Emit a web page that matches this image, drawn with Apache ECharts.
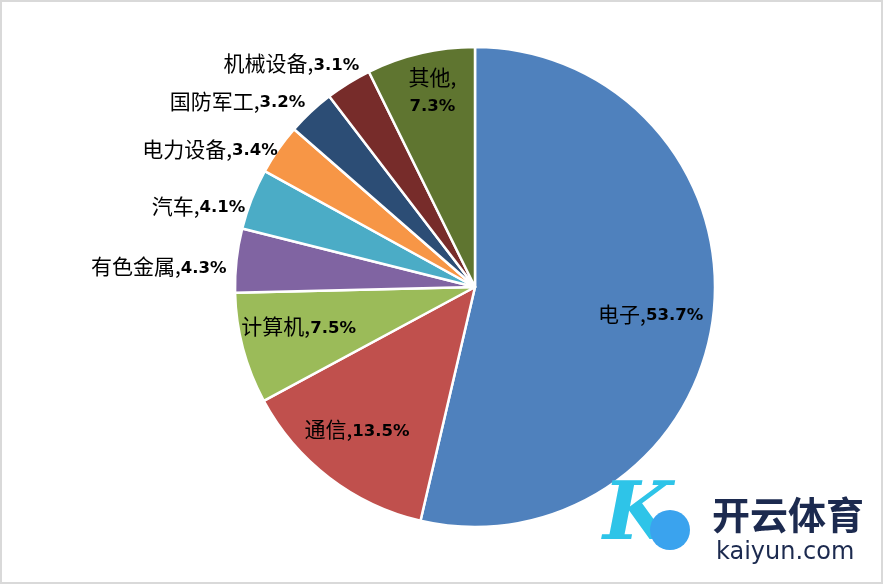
<!DOCTYPE html>
<html><head><meta charset="utf-8">
<script src="https://cdn.jsdelivr.net/npm/echarts@6/dist/echarts.min.js"></script>
<style>html,body{margin:0;padding:0;background:#fff}#c{width:883px;height:584px}</style>
</head><body><div id="c"></div>
<script>
const categories = ['电子','通信','计算机','有色金属','汽车','电力设备','国防军工','机械设备','其他'];
const shares = [53.7, 13.5, 7.5, 4.3, 4.1, 3.4, 3.2, 3.1, 7.3];
const colors = ['#4F81BD','#C0504D','#9BBB59','#8064A2','#4BACC6','#F79646','#2C4D75','#772C2A','#5F7530'];
// label placement style: inside labels pushed outward by a radial factor
const insideFactor = {0:1.47, 1:1.54, 2:1.5, 8:1.67};
const insideShift = {0:[-4,6], 1:[-3,-8], 2:[2,-8], 8:[4,4]};
const outsideShift = {3:[1,7], 4:[4,10], 5:[9,4], 6:[3,-5], 7:[18,-13]};

const CX = 475, CY = 287;
const chart = echarts.init(document.getElementById('c'), null, {renderer:'canvas'});
const data = categories.map((n,i)=>{
  const inside = insideFactor[i] !== undefined;
  return {
    name:n, value:shares[i],
    itemStyle:{color:colors[i]},
    label:{
      position: inside ? 'inside' : 'outside',
      formatter: (i===8) ? '{c|{b},}\n{n|{c}%}' : '{c|{b},}{n|{c}%}'
    }
  };
});
chart.setOption({
  animation:false,
  backgroundColor:'#fff',
  graphic:[
    {type:'rect', shape:{x:1,y:1,width:881,height:582}, style:{fill:'none', stroke:'#d9d9d9', lineWidth:2}, z:100},
    {type:'text', left:712, top:496, style:{text:'开云体育', font:'bold 38px "Noto Sans CJK SC"', fill:'#1c2a4f'}, z:100},
    {type:'text', left:716, top:541, style:{text:'kaiyun.com', font:'24px "DejaVu Sans"', fill:'#1c2a4f'}, z:100},
    {type:'circle', shape:{cx:670, cy:530, r:20}, style:{fill:'#3aa3ee'}, z:100},
    {type:'text', left:603, top:478, style:{text:'K', font:'italic bold 80px "DejaVu Serif"', fill:'#2ec4e8'}, z:99}
  ],
  series:[{
    type:'pie',
    center:[CX, CY],
    radius:[0, 240],
    startAngle:90,
    clockwise:true,
    avoidLabelOverlap:false,
    itemStyle:{borderColor:'#fff', borderWidth:2.5},
    label:{
      show:true,
      color:'#000',
      rich:{
        c:{fontFamily:'"Noto Sans CJK SC"', fontSize:21, color:'#000', lineHeight:28},
        n:{fontFamily:'"DejaVu Sans"', fontWeight:'bold', fontSize:16.5, color:'#000', lineHeight:28, padding:[4,0,0,0]}
      },
      distanceToLabelLine:3
    },
    labelLine:{show:false, length:8, length2:0},
    labelLayout:function(p){
      const i = p.dataIndex;
      const r = p.labelRect;
      if (insideFactor[i] !== undefined){
        const lx = r.x + r.width/2, ly = r.y + r.height/2;
        const k = insideFactor[i];
        const s = insideShift[i] || [0,0];
        return {dx:(lx-CX)*(k-1)+s[0], dy:(ly-CY)*(k-1)+s[1]};
      }
      const s = outsideShift[i] || [0,0];
      return {dx:s[0], dy:s[1]};
    },
    data:data
  }]
});
</script></body></html>
